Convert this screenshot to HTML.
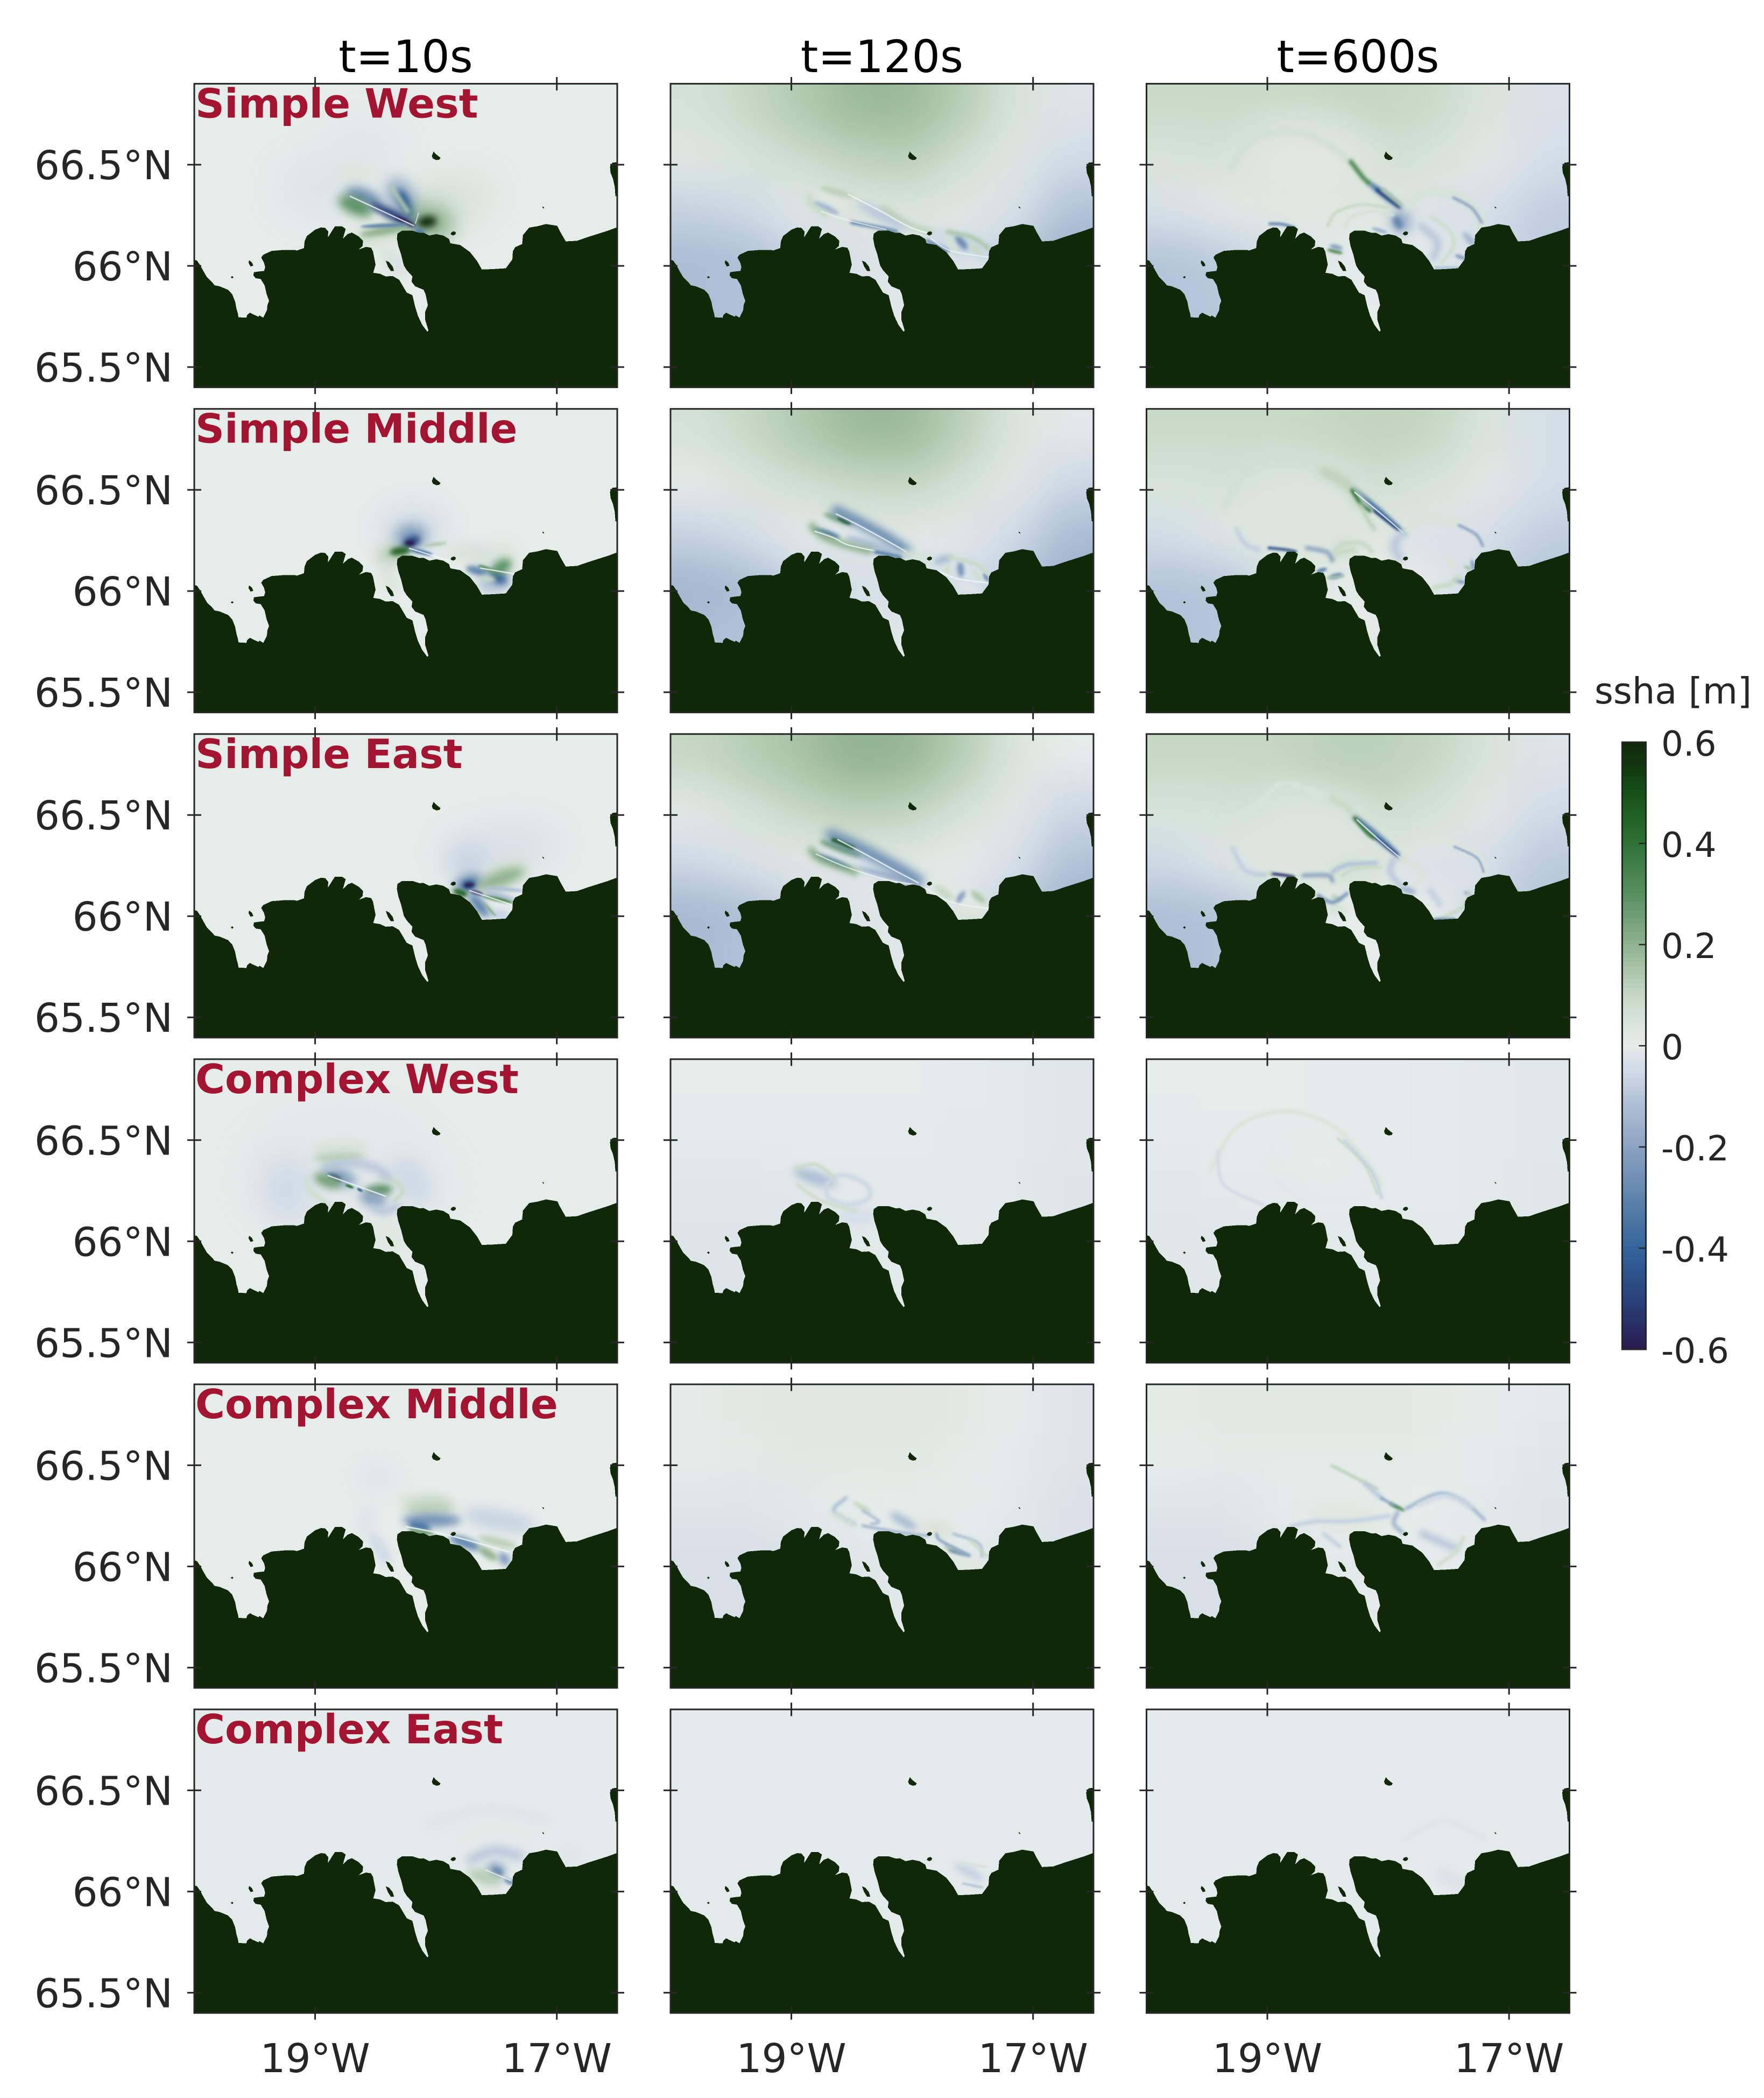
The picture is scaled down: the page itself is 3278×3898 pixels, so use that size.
<!DOCTYPE html>
<html>
<head>
<meta charset="utf-8">
<title>ssha maps</title>
<style>
html,body{margin:0;padding:0;background:#fff;}
svg{display:block;}
text{font-family:"DejaVu Sans","Liberation Sans",sans-serif;}
</style>
</head>
<body>
<svg id="figure" xmlns="http://www.w3.org/2000/svg" width="3278" height="3898" viewBox="0 0 3278 3898">
<rect x="0" y="0" width="3278" height="3898" fill="#ffffff"/>
<defs id="defs"></defs>
</svg>
<script>
/* ---------- axis ranges and ticks ---------- */
const lonRange = [-20, -16.5];
const latRange = [65.4, 66.9];
const lonTicks = [-19, -17];
const latTicks = [66.5, 66, 65.5];
const columnTitles = ['t=10s', 't=120s', 't=600s'];
const rowLabels = ['Simple West', 'Simple Middle', 'Simple East', 'Complex West', 'Complex Middle', 'Complex East'];
const colorbarTicks = [0.6, 0.4, 0.2, 0, -0.2, -0.4, -0.6];

/* ---------- colour map (value, colour) ---------- */
const cmapValues = [-0.6, -0.5, -0.4, -0.3, -0.2, -0.1, -0.05, 0, 0.05, 0.1, 0.2, 0.3, 0.4, 0.5, 0.55, 0.6];
const cmapColors = ['#2b1b50', '#28427a', '#34659a', '#5f84ac', '#8ba3c2', '#b6c6da', '#d0dbe6', '#e6ecea', '#d8e4da', '#c6d8c4', '#8fb28f', '#589060', '#2f7236', '#165218', '#11380f', '#102808'];

/* ---------- coastline in lon/lat ---------- */
const coastline = [-20,66.03,-19.977,66.026,-19.949,66.001,-19.925,65.975,-19.895,65.944,-19.849,65.917,-19.832,65.904,-19.79,65.899,-19.721,65.882,-19.686,65.86,-19.662,65.824,-19.651,65.789,-19.639,65.764,-19.634,65.746,-19.569,65.744,-19.562,65.758,-19.539,65.769,-19.511,65.76,-19.469,65.749,-19.46,65.755,-19.429,65.744,-19.399,65.78,-19.395,65.806,-19.381,65.827,-19.401,65.86,-19.418,65.904,-19.45,65.935,-19.492,65.939,-19.511,65.953,-19.506,65.969,-19.469,65.972,-19.422,65.975,-19.413,65.993,-19.422,66.015,-19.446,66.041,-19.429,66.055,-19.36,66.074,-19.255,66.079,-19.173,66.079,-19.15,66.076,-19.092,66.088,-19.087,66.121,-19.068,66.148,-18.999,66.179,-18.952,66.19,-18.917,66.188,-18.891,66.17,-18.894,66.141,-18.859,66.174,-18.836,66.195,-18.777,66.195,-18.747,66.183,-18.77,66.134,-18.731,66.157,-18.696,66.165,-18.638,66.145,-18.603,66.124,-18.607,66.099,-18.638,66.081,-18.579,66.094,-18.537,66.09,-18.521,66.072,-18.5,66.006,-18.519,65.966,-18.463,65.961,-18.416,65.948,-18.358,65.95,-18.305,65.932,-18.242,65.868,-18.195,65.855,-18.172,65.798,-18.149,65.753,-18.114,65.709,-18.072,65.675,-18.062,65.68,-18.072,65.7,-18.09,65.735,-18.09,65.771,-18.067,65.806,-18.086,65.86,-18.102,65.882,-18.172,65.899,-18.202,65.922,-18.195,65.948,-18.242,65.979,-18.265,66.001,-18.288,66.055,-18.312,66.099,-18.323,66.134,-18.319,66.159,-18.281,66.174,-18.195,66.174,-18.137,66.163,-18.102,66.164,-18.055,66.15,-17.997,66.157,-17.939,66.15,-17.892,66.133,-17.881,66.112,-17.799,66.103,-17.718,66.068,-17.66,66.024,-17.62,65.982,-17.531,65.984,-17.422,65.988,-17.368,66.032,-17.364,66.072,-17.345,66.092,-17.287,66.108,-17.28,66.152,-17.229,66.189,-17.159,66.196,-17.089,66.207,-16.996,66.198,-16.973,66.17,-16.926,66.121,-16.833,66.124,-16.74,66.143,-16.577,66.174,-16.495,66.192,-16.495,65.39,-20.005,65.39,-20.005,66.03];
const grimseyIsland = [-18.02,66.565,-18.0,66.552,-17.962,66.534,-17.972,66.525,-17.996,66.523,-18.025,66.53,-18.034,66.543];
const hriseyIsland = [-18.416,66.026,-18.388,66.019,-18.358,65.997,-18.347,65.975,-18.374,65.975,-18.398,65.997];
const westFjordIsland = [-19.546,66.028,-19.523,66.017,-19.511,66.001,-19.534,65.997,-19.551,66.015];
const tinyWestIsland = [-19.698,65.944,-19.686,65.95,-19.675,65.944,-19.686,65.938];
const capeIsland = [-17.88,66.157,-17.87,66.167,-17.85,66.171,-17.835,66.165,-17.84,66.155,-17.86,66.15];
const tinyEastIsland = [-17.12,66.295,-17.105,66.288,-17.108,66.283,-17.12,66.29];
const eastEdgeLand = [-16.49,66.513,-16.54,66.51,-16.56,66.49,-16.555,66.46,-16.535,66.43,-16.52,66.39,-16.515,66.345,-16.49,66.345];
const landShapes = [coastline, grimseyIsland, hriseyIsland, westFjordIsland, tinyWestIsland, capeIsland, tinyEastIsland, eastEdgeLand];

/* ---------- coarse background fields: 6 rows (north to south) x 8 columns (west to east), metres ---------- */
const calmField = [
 [0,0,0,0,0,0,0,0],
 [0,0,0,0,0,0,0,0],
 [0,0,0,0,0,0,0,0],
 [0,0,0,0,0,0,0,0],
 [0,0,0,0,0,0,0,0],
 [0,0,0,0,0,0,0,0]];
const simpleWest120Field = [
 [.06,.10,.14,.18,.18,.13,.05,-.02],
 [.02,.05,.08,.11,.12,.07,.02,-.05],
 [-.07,-.05,-.01,.03,.04,.02,-.03,-.11],
 [-.13,-.12,-.07,-.03,-.02,-.03,-.09,-.17],
 [-.12,-.11,-.07,-.02,.01,-.05,-.09,-.17],
 [-.12,-.11,-.07,-.02,.01,-.05,-.09,-.17]];
const simpleWest600Field = [
 [.09,.09,.09,.10,.10,.09,.04,-.03],
 [.05,.06,.06,.06,.07,.05,.01,-.04],
 [-.03,.0,.02,.02,.02,.01,-.04,-.08],
 [-.11,-.09,-.03,-.01,-.01,-.01,-.05,-.09],
 [-.10,-.10,-.04,.0,.0,-.02,-.05,-.08],
 [-.10,-.10,-.04,.0,.0,-.02,-.05,-.08]];
const simpleMiddle120Field = [
 [.06,.10,.14,.18,.18,.12,.04,-.01],
 [.0,.04,.07,.09,.10,.06,.01,-.06],
 [-.07,-.04,.0,.02,.01,-.01,-.05,-.13],
 [-.15,-.13,-.07,-.04,-.04,-.04,-.09,-.17],
 [-.12,-.11,-.07,-.03,.01,-.03,-.09,-.17],
 [-.12,-.11,-.07,-.03,.01,-.03,-.09,-.17]];
const simpleMiddle600Field = [
 [.09,.09,.09,.10,.11,.10,.04,-.04],
 [.05,.06,.06,.07,.07,.05,.01,-.04],
 [-.04,-.01,.03,.03,.02,.01,-.04,-.08],
 [-.11,-.10,-.03,.01,.0,-.01,-.07,-.11],
 [-.11,-.10,-.05,.0,.02,-.02,-.07,-.11],
 [-.11,-.10,-.05,.0,.02,-.02,-.07,-.11]];
const simpleEast120Field = [
 [.10,.13,.16,.20,.19,.13,.04,.0],
 [.01,.06,.10,.12,.11,.06,.01,-.06],
 [-.05,-.02,.01,.02,.02,.0,-.03,-.11],
 [-.14,-.12,-.06,-.02,-.02,-.02,-.08,-.16],
 [-.13,-.11,-.06,-.02,.02,.0,-.07,-.16],
 [-.13,-.11,-.06,-.02,.02,.0,-.07,-.16]];
const simpleEast600Field = [
 [.10,.10,.10,.12,.12,.10,.05,-.02],
 [.05,.06,.07,.08,.08,.06,.01,-.05],
 [-.05,-.01,.02,.03,.03,.01,-.04,-.09],
 [-.12,-.11,-.05,.0,.0,.0,-.07,-.11],
 [-.12,-.11,-.05,.0,.0,.0,-.07,-.11],
 [-.12,-.11,-.05,.0,.0,.0,-.07,-.11]];
const complexWest120Field = [
 [0,0,0,0,0,-.005,-.01,-.015],
 [-.005,-.005,-.005,-.005,-.005,-.01,-.01,-.015],
 [-.015,-.015,-.01,-.01,-.01,-.01,-.01,-.02],
 [-.02,-.02,-.02,-.01,-.01,-.01,-.01,-.02],
 [-.02,-.02,-.02,-.01,-.01,-.01,-.01,-.02],
 [-.02,-.02,-.02,-.01,-.01,-.01,-.01,-.02]];
const complexWest600Field = [
 [0,0,0,-.003,-.003,-.005,-.008,-.012],
 [-.005,-.004,-.003,-.003,-.003,-.005,-.008,-.012],
 [-.012,-.01,-.008,-.005,-.005,-.005,-.008,-.015],
 [-.015,-.015,-.01,-.008,-.008,-.008,-.01,-.015],
 [-.015,-.015,-.01,-.008,-.008,-.008,-.01,-.015],
 [-.015,-.015,-.01,-.008,-.008,-.008,-.01,-.015]];
const complexMiddle120Field = [
 [.01,.02,.03,.03,.03,.02,.0,-.02],
 [.005,.01,.02,.02,.02,.01,-.005,-.02],
 [-.02,-.02,-.01,.0,.005,.0,-.01,-.03],
 [-.035,-.035,-.03,-.02,-.01,-.01,-.02,-.03],
 [-.035,-.035,-.03,-.02,-.01,-.01,-.02,-.03],
 [-.035,-.035,-.03,-.02,-.01,-.01,-.02,-.03]];
const complexMiddle600Field = [
 [.015,.02,.02,.02,.02,.015,.0,-.01],
 [.0,.01,.01,.01,.01,.005,-.005,-.015],
 [-.02,-.02,-.005,.0,.005,.0,-.01,-.02],
 [-.035,-.035,-.02,-.01,-.005,-.005,-.01,-.02],
 [-.035,-.035,-.02,-.01,-.005,-.005,-.01,-.02],
 [-.035,-.035,-.02,-.01,-.005,-.005,-.01,-.02]];
const complexEastField = [
 [-.004,-.004,-.004,-.004,-.004,-.004,-.004,-.004],
 [-.004,-.004,-.004,-.004,-.004,-.004,-.004,-.004],
 [-.005,-.005,-.005,-.005,-.005,-.005,-.005,-.005],
 [-.006,-.006,-.006,-.006,-.006,-.006,-.006,-.006],
 [-.006,-.006,-.006,-.006,-.006,-.006,-.006,-.006],
 [-.006,-.006,-.006,-.006,-.006,-.006,-.006,-.006]];

/* ---------- wave features
   blobs: [lon1,lat1,lon2,lat2,halfWidthDeg,value]  (ellipse along an axis)
   fronts: [value,widthPx,lon,lat,lon,lat,...]      (thin crest lines)        ---------- */
const simpleWest10Blobs = [
 [-19.3,66.38,-18.6,66.38,.2,-.02],[-18.9,66.58,-18.3,66.58,.18,-.015],[-18.85,66.46,-18.5,66.46,.06,.035],[-18.0,66.3,-17.5,66.38,.16,.035],
 [-18.45,66.08,-18.25,65.96,.05,.05],[-18.4,66.02,-18.27,65.98,.04,-.03],[-18.7,66.12,-18.25,66.2,.06,.07],[-18.2,66.25,-17.8,66.3,.16,.07],
 [-18.354,66.418,-18.2,66.228,.075,-.22],[-18.30,66.37,-18.19,66.23,.03,-.42],[-18.73,66.37,-18.456,66.303,.05,-.28],[-18.797,66.33,-18.54,66.262,.05,.3],
 [-18.24,66.23,-17.88,66.2,.1,.22],[-18.15,66.21,-18.0,66.225,.035,.58],[-18.525,66.303,-18.184,66.199,.03,-.5],[-18.337,66.242,-18.184,66.199,.012,-.6],
 [-18.61,66.154,-18.235,66.194,.025,.2],[-18.61,66.194,-18.25,66.204,.012,-.3],[-18.17,66.18,-18.1,66.15,.025,-.35]];
const simpleWest10Fronts = [[.14,6,-18.37,66.39,-18.235,66.27],[0,3,-18.71,66.344,-18.184,66.199],[0,2,-18.17,66.21,-18.145,66.26]];
const simpleWest120Blobs = [
 [-17.635,66.03,-17.394,65.995,.05,-.02],[-18.813,66.354,-18.53,66.287,.065,.03],[-18.756,66.387,-18.5,66.343,.02,.12],[-18.813,66.315,-18.614,66.259,.018,-.15],
 [-18.444,66.309,-18.046,66.186,.035,-.09],[-17.862,66.152,-17.365,66.063,.055,-.06],[-17.635,66.147,-17.55,66.085,.022,-.28],[-17.734,66.152,-17.635,66.074,.02,.06],[-17.52,66.108,-17.436,66.057,.018,.1]];
const simpleWest120Fronts = [
 [.1,8,-18.856,66.343,-18.827,66.298,-18.714,66.253],[.12,8,-18.245,66.287,-18.018,66.203,-17.848,66.169],[0,3,-18.53,66.354,-18.274,66.275,-18.018,66.191,-17.848,66.158],
 [-.3,5,-18.5,66.214,-18.245,66.186,-18.13,66.169],[0,2,-18.756,66.27,-18.53,66.225,-18.217,66.18],[.15,6,-17.706,66.169,-17.507,66.141,-17.365,66.085],
 [-.3,5,-17.876,66.124,-17.706,66.074],[0,2.5,-17.848,66.136,-17.678,66.074,-17.365,66.043]];
const simpleWest600Blobs = [
 [-19.23,66.51,-18.13,66.488,.3,.03],[-17.793,66.264,-17.26,66.242,.14,-.03],[-17.91,66.276,-17.878,66.164,.06,-.18],[-17.945,66.242,-17.895,66.186,.025,-.3],
 [-18.16,66.41,-17.894,66.287,.02,-.35],[-18.5,66.08,-18.38,66.063,.012,.3],[-18.48,66.1,-18.38,66.085,.015,-.2],[-18.13,66.186,-18.01,66.164,.012,-.15],
 [-17.377,66.163,-17.276,66.096,.02,-.14],[-17.443,66.052,-17.36,66.035,.012,-.2]];
const simpleWest600Fronts = [
 [.07,8,-19.3,66.488,-19.132,66.622,-18.8,66.667,-18.53,66.611,-18.33,66.522,-18.23,66.455],[.35,6,-18.31,66.516,-18.21,66.438,-18.16,66.41],
 [-.5,4,-18.095,66.376,-17.91,66.292],[.15,5,-18.045,66.376,-17.888,66.298],[.06,10,-17.845,66.298,-17.694,66.365,-17.494,66.359,-17.326,66.309,-17.226,66.23,-17.243,66.175],
 [-.2,4,-17.46,66.337,-17.31,66.287,-17.226,66.214],[-.1,10,-17.728,66.197,-17.593,66.119,-17.627,66.04],[.08,5,-17.645,66.242,-17.494,66.175,-17.46,66.096,-17.56,66.018],
 [.1,4,-18.5,66.197,-18.43,66.264,-18.23,66.303,-18.0,66.287],[.06,4,-18.36,66.186,-18.3,66.242,-18.13,66.27,-17.96,66.253],[-.3,4,-18.98,66.208,-18.88,66.206,-18.78,66.19],
 [-.12,4,-17.61,65.99,-17.425,65.99]];
const simpleMiddle10Blobs = [
 [-18.46,66.31,-17.92,66.31,.14,-.04],[-18.45,66.13,-18.33,66.0,.05,.04],[-18.48,66.172,-18.22,66.198,.06,.12],[-18.325,66.263,-18.088,66.276,.07,-.25],[-18.27,66.23,-18.137,66.257,.03,-.5],
 [-18.25,66.235,-18.18,66.237,.016,-.6],[-18.376,66.191,-18.22,66.204,.025,.45],[-18.205,66.205,-18.035,66.18,.012,-.4],[-18.1,66.224,-17.916,66.237,.012,.13],
 [-17.745,66.224,-17.49,66.133,.05,-.03],[-17.9,66.2,-17.55,66.16,.05,.05],[-17.51,66.133,-17.37,66.198,.09,.06],[-17.646,66.028,-17.387,66.054,.06,-.12],[-17.745,66.113,-17.574,66.087,.025,-.3],
 [-17.56,66.087,-17.42,66.048,.035,-.42],[-17.525,66.094,-17.387,66.146,.04,.3],[-17.646,66.126,-17.51,66.094,.012,.3],[-17.63,66.067,-17.51,66.054,.02,.1]];
const simpleMiddle10Fronts = [[0,3,-18.22,66.211,-17.9,66.152],[0,3,-17.63,66.113,-17.3,66.08]];
const simpleMiddle120Blobs = [
 [-17.63,66.03,-17.42,65.99,.04,-.02],[-18.816,66.33,-18.094,66.193,.075,-.02],[-18.723,66.38,-18.49,66.33,.02,.22],[-18.618,66.361,-18.513,66.331,.01,.5],
 [-18.804,66.305,-18.606,66.264,.018,-.35],[-18.536,66.264,-18.164,66.193,.025,-.12],[-17.814,66.142,-17.372,66.061,.05,-.03],[-17.814,66.142,-17.674,66.168,.025,-.12],
 [-17.605,66.142,-17.594,66.071,.02,-.25],[-17.72,66.132,-17.7,66.086,.02,.08],[-17.5,66.101,-17.43,66.055,.015,.08],[-17.407,66.086,-17.372,66.05,.012,-.25]];
const simpleMiddle120Fronts = [
 [-.3,14,-18.63,66.396,-18.443,66.341,-18.21,66.264,-18.048,66.198],[0,3,-18.63,66.381,-18.443,66.325,-18.21,66.249,-18.048,66.193],[.22,10,-18.83,66.32,-18.746,66.274,-18.583,66.234,-18.35,66.198],
 [0,3,-18.804,66.295,-18.653,66.264,-18.536,66.229,-18.304,66.198],[-.35,5,-18.304,66.193,-18.094,66.168],[.06,10,-18.07,66.188,-17.86,66.157],[0,3,-17.79,66.101,-17.628,66.061,-17.372,66.04],
 [.1,5,-17.7,66.168,-17.49,66.137,-17.372,66.086]];
const simpleMiddle600Blobs = [
 [-19.23,66.417,-18.18,66.356,.3,.04],[-17.857,66.254,-17.23,66.223,.13,-.03],[-18.44,66.223,-18.277,66.193,.05,.07],[-18.288,66.508,-17.857,66.28,.018,-.35],
 [-18.59,66.096,-18.51,66.11,.012,-.3],[-18.486,66.066,-18.38,66.082,.015,-.28],[-17.37,66.122,-17.31,66.107,.012,.15],[-17.31,66.152,-17.287,66.1,.012,-.2],[-17.46,66.056,-17.36,66.04,.012,-.2],[-17.508,66.173,-17.46,66.111,.02,.05]];
const simpleMiddle600Fronts = [
 [.07,8,-19.35,66.417,-19.185,66.59,-18.88,66.651,-18.556,66.6,-18.347,66.529],[.12,14,-18.533,66.59,-18.347,66.529,-18.23,66.44],[.4,5,-18.3,66.498,-18.22,66.427,-18.15,66.396],
 [-.5,4,-18.114,66.396,-17.916,66.305],[0,3,-18.277,66.488,-18.067,66.386,-17.88,66.29],[.12,6,-18.23,66.427,-18.16,66.346,-18.114,66.305],[.05,10,-17.88,66.275,-17.695,66.356,-17.415,66.335],
 [-.2,4,-17.415,66.325,-17.275,66.28,-17.217,66.223],[-.1,12,-17.904,66.274,-17.95,66.223,-17.904,66.162],[.1,6,-18.451,66.193,-18.37,66.233,-18.207,66.233,-18.137,66.193],[.1,6,-18.463,66.152,-18.393,66.193,-18.277,66.203],
 [-.2,6,-18.673,66.213,-18.51,66.193,-18.463,66.152],[-.45,4,-18.987,66.213,-18.859,66.205,-18.766,66.195],[-.08,6,-19.255,66.305,-19.185,66.234,-19.068,66.203],[.15,3,-18.5,66.065,-18.37,66.075],[.1,6,-17.625,66.015,-17.485,66.035,-17.415,66.07]];
const simpleEast10Blobs = [
 [-17.95,66.3,-17.0,66.37,.16,-.03],[-17.88,66.25,-17.576,66.276,.1,-.07],[-17.61,66.172,-17.25,66.25,.07,.07],[-17.576,66.015,-17.387,66.0,.03,-.07],[-17.875,66.133,-17.73,66.093,.03,.12],
 [-17.83,66.146,-17.626,66.178,.05,-.3],[-17.78,66.148,-17.678,66.159,.025,-.5],[-17.76,66.152,-17.685,66.156,.012,-.58],[-17.71,66.123,-17.61,66.106,.012,-.6],[-17.85,66.126,-17.745,66.106,.018,.45],
 [-17.645,66.146,-17.285,66.224,.045,.2],[-17.575,66.14,-17.285,66.126,.012,-.12],[-17.59,66.12,-17.35,66.08,.018,-.12],[-17.61,66.1,-17.37,66.067,.012,.35],[-17.713,66.106,-17.576,66.002,.035,-.3],[-17.61,66.067,-17.507,66.002,.008,.2]];
const simpleEast10Fronts = [[0,3,-17.72,66.126,-17.36,66.054]];
const simpleEast120Blobs = [
 [-17.67,66.041,-17.385,66.006,.05,.05],[-18.805,66.334,-18.03,66.179,.065,-.03],[-18.755,66.369,-18.43,66.298,.02,.25],[-18.796,66.303,-18.515,66.236,.018,-.35],[-18.43,66.236,-17.99,66.165,.02,-.15],
 [-17.87,66.157,-17.365,66.041,.065,.02],[-17.568,66.121,-17.628,66.068,.018,-.2],[-17.81,66.148,-17.67,66.086,.025,.1],[-17.507,66.121,-17.4,66.068,.02,.15]];
const simpleEast120Fronts = [
 [-.3,16,-18.675,66.4,-18.43,66.334,-18.15,66.245,-17.95,66.174],[.5,5,-18.655,66.378,-18.49,66.338],[0,3,-18.615,66.378,-18.39,66.307,-18.15,66.228,-17.95,66.165],
 [.22,10,-18.836,66.325,-18.755,66.281,-18.47,66.219],[0,2.5,-18.796,66.307,-18.555,66.245,-18.23,66.183,-17.99,66.157],[0,2.5,-17.89,66.139,-17.67,66.068,-17.365,66.037]];
const simpleEast600Blobs = [
 [-19.145,66.414,-18.137,66.369,.3,.04],[-17.895,66.236,-17.19,66.228,.13,-.03],[-18.46,66.228,-18.1,66.201,.07,.06],[-18.278,66.493,-17.895,66.29,.02,-.35],[-18.47,66.1,-18.39,66.08,.015,.12],
 [-18.5,66.05,-18.36,66.024,.03,.06],[-17.895,66.139,-17.774,66.117,.02,-.15],[-17.37,66.121,-17.31,66.099,.012,-.15]];
const simpleEast600Fronts = [
 [.1,8,-18.5,66.591,-18.339,66.538,-18.278,66.485],[.05,8,-19.286,66.343,-19.266,66.485,-19.064,66.564,-18.86,66.655,-18.5,66.591],[.4,5,-18.278,66.485,-18.177,66.414,-18.117,66.387],
 [-.5,4,-18.097,66.387,-17.915,66.298],[0,3,-18.258,66.476,-18.077,66.378,-17.895,66.285],[.04,8,-17.895,66.29,-17.694,66.369,-17.492,66.365,-17.27,66.298,-17.2,66.219],[-.2,3,-17.452,66.343,-17.27,66.29,-17.21,66.219],
 [.05,6,-17.875,66.28,-17.714,66.219,-17.774,66.148],[-.1,8,-17.956,66.28,-17.984,66.219,-17.895,66.148],[-.12,6,-18.46,66.219,-18.339,66.254,-18.097,66.263],[.1,4,-18.379,66.201,-18.258,66.236,-18.056,66.241],
 [-.2,6,-18.7,66.201,-18.5,66.201,-18.46,66.174],[-.55,4,-18.964,66.21,-18.843,66.201,-18.782,66.194],[.1,4,-19.105,66.201,-18.964,66.214],[-.08,6,-19.286,66.334,-19.185,66.228,-19.024,66.201],
 [-.25,5,-18.58,66.103,-18.46,66.068,-18.339,66.112],[.1,5,-17.33,66.112,-17.39,66.041,-17.57,65.988],[-.08,8,-17.653,66.13,-17.573,66.059],[-.3,4,-17.613,65.984,-17.452,65.984]];
const complexWest10Blobs = [
 [-19.55,66.35,-17.9,66.25,.4,-.012],[-19.3,66.55,-18.2,66.55,.15,-.01],[-19.23,66.391,-19.23,66.116,.14,-.055],[-18.32,66.391,-18.09,66.208,.09,-.06],[-18.5,66.1,-18.3,65.95,.07,.03],
 [-19.0,66.467,-18.58,66.472,.035,.05],[-19.0,66.411,-18.6,66.42,.035,.12],[-18.917,66.35,-18.673,66.289,.05,-.22],[-18.894,66.335,-18.79,66.3,.018,-.5],[-19.0,66.32,-18.79,66.279,.04,.25],
 [-18.58,66.244,-18.37,66.259,.035,.3],[-18.626,66.228,-18.416,66.188,.045,-.2],[-18.747,66.279,-18.684,66.264,.008,.4],[-18.65,66.261,-18.61,66.247,.008,-.4]];
const complexWest10Fronts = [
 [.08,6,-19.07,66.31,-19.057,66.259,-18.95,66.208,-18.88,66.177],[.1,6,-18.46,66.32,-18.32,66.289,-18.277,66.243,-18.35,66.198],[-.1,10,-18.51,66.162,-18.416,66.147,-18.32,66.172],
 [-.1,12,-18.905,66.36,-18.72,66.386,-18.51,66.366,-18.393,66.32],[0,3,-18.894,66.325,-18.416,66.223]];
const complexWest120Blobs = [[-18.6,66.12,-18.3,66.12,.05,-.04],[-18.97,66.347,-18.64,66.28,.04,-.12]];
const complexWest120Fronts = [
 [-.06,6,-18.714,66.28,-18.58,66.327,-18.38,66.28,-18.36,66.215,-18.525,66.182,-18.69,66.215,-18.714,66.28],[.1,4,-18.97,66.36,-18.8,66.38,-18.64,66.314],[.08,5,-18.95,66.28,-18.75,66.2,-18.47,66.15]];
const complexWest600Blobs = [[-18.8,66.42,-18.3,66.35,.12,.005]];
const complexWest600Fronts = [
 [.05,5,-19.47,66.347,-19.25,66.564,-18.86,66.643,-18.475,66.577,-18.2,66.413,-18.055,66.28],[-.08,4,-18.365,66.498,-18.14,66.347,-18.055,66.215],[.1,3,-18.42,66.51,-18.2,66.38,-18.09,66.235],[-.05,4,-19.41,66.445,-19.36,66.28,-19.03,66.18]];
const complexMiddle10Blobs = [
 [-18.49,66.49,-18.49,66.39,.12,-.025],[-18.3,66.33,-17.9,66.33,.04,.05],[-18.25,66.281,-17.86,66.294,.05,.12],[-17.75,66.259,-17.2,66.197,.06,-.07],[-18.55,66.3,-18.6,66.15,.05,-.02],[-18.53,66.161,-18.39,66.01,.04,-.05],
 [-18.26,66.228,-17.81,66.228,.04,-.25],[-18.22,66.21,-18.05,66.188,.025,-.35],[-17.88,66.143,-17.64,66.09,.03,-.3],[-17.47,66.064,-17.4,66.01,.03,-.22],[-17.64,66.09,-17.5,66.037,.025,.2],[-17.64,66.143,-17.34,66.099,.025,.12],[-18.22,66.179,-18.02,66.161,.015,.25]];
const complexMiddle10Fronts = [[0,3,-18.25,66.197,-17.88,66.152,-17.4,66.072]];
const complexMiddle120Blobs = [[-17.93,66.205,-17.66,66.17,.05,.05],[-18.48,66.316,-18.344,66.267,.015,.1],[-18.173,66.259,-17.97,66.188,.03,-.12],[-17.73,66.099,-17.594,66.064,.015,.15],[-17.696,66.081,-17.526,66.05,.012,-.25],[-17.66,66.028,-17.39,65.993,.04,.03]];
const complexMiddle120Fronts = [
 [-.12,5,-18.548,66.338,-18.65,66.276,-18.48,66.21],[-.12,4,-18.41,66.276,-18.275,66.223,-18.34,66.21],[-.15,4,-18.41,66.201,-18.07,66.165,-17.87,66.152],[-.2,4,-17.8,66.161,-17.76,66.126,-17.526,66.055],[-.12,4,-17.66,66.161,-17.457,66.117,-17.42,66.05],[.1,4,-17.526,66.134,-17.376,66.046],[.06,8,-18.65,66.259,-18.48,66.205]];
const complexMiddle600Blobs = [[-17.58,66.232,-17.24,66.214,.1,-.01],[-18.67,66.259,-18.06,66.223,.08,.03],[-17.99,66.312,-17.867,66.276,.012,.3]];
const complexMiddle600Fronts = [
 [.12,4,-18.466,66.498,-18.262,66.436,-18.09,66.383],[-.1,6,-18.194,66.41,-18.057,66.338],[-.2,4,-18.057,66.338,-17.955,66.303],[-.15,6,-17.92,66.268,-17.955,66.214,-17.887,66.17],[-.15,5,-17.853,66.285,-17.58,66.36,-17.376,66.321,-17.205,66.232],[-.05,6,-17.75,66.303,-17.51,66.347,-17.31,66.294],
 [-.08,5,-18.81,66.197,-18.6,66.223,-18.33,66.223,-17.99,66.25],[-.1,10,-17.717,66.161,-17.444,66.09],[.08,5,-17.376,66.143,-17.444,66.072,-17.58,66.01],[-.08,5,-18.535,66.161,-18.4,66.099]];
const complexEast10Blobs = [[-16.94,66.208,-16.84,66.144,.05,-.02],[-17.7,66.0,-17.5,66.0,.03,.02],[-17.57,66.119,-17.434,66.093,.045,-.22],[-17.537,66.106,-17.45,66.087,.02,-.3],[-17.724,66.093,-17.469,66.049,.04,.13],[-17.434,66.062,-17.356,66.036,.015,-.25]];
const complexEast10Fronts = [[-.02,14,-18.03,66.334,-17.588,66.41,-17.11,66.36],[.02,10,-17.76,66.258,-17.52,66.322,-17.247,66.284],[-.1,14,-17.707,66.157,-17.52,66.201,-17.315,66.176],[0,2.5,-17.588,66.106,-17.383,66.055]];
const complexEast120Blobs = [[-17.64,66.13,-17.42,66.063,.03,-.07]];
const complexEast120Fronts = [[.06,3,-17.605,66.142,-17.385,66.122],[-.12,3,-17.58,66.04,-17.42,66.02]];
const complexEast600Blobs = [[-17.59,66.096,-17.37,66.03,.04,-.03]];
const complexEast600Fronts = [[-.02,6,-17.87,66.26,-17.535,66.347,-17.2,66.26]];

/* ---------- scales and helpers ---------- */
const svg = document.getElementById('figure');
const defs = document.getElementById('defs');
const NS = 'http://www.w3.org/2000/svg';
const PANEL_W = 786, PANEL_H = 564;
const columnLeft = [361, 1246, 2130.5];
const rowTop = [155.6, 759.7, 1363.8, 1967.9, 2572, 3176];
const INK = '#262626';
const LAND = '#102808';
let uid = 0;

function xScale(lon) { return (lon - lonRange[0]) / (lonRange[1] - lonRange[0]) * PANEL_W; }
function yScale(lat) { return (latRange[1] - lat) / (latRange[1] - latRange[0]) * PANEL_H; }

function make(tag, attrs, parent) {
  const el = document.createElementNS(NS, tag);
  for (const k in attrs) el.setAttribute(k, attrs[k]);
  if (parent) parent.appendChild(el);
  return el;
}
function hexToRgb(h) { return [parseInt(h.slice(1,3),16), parseInt(h.slice(3,5),16), parseInt(h.slice(5,7),16)]; }
function colorOf(v) {
  if (v <= cmapValues[0]) return cmapColors[0];
  const n = cmapValues.length - 1;
  if (v >= cmapValues[n]) return cmapColors[n];
  let i = 0;
  while (v > cmapValues[i + 1]) i++;
  const t = (v - cmapValues[i]) / (cmapValues[i + 1] - cmapValues[i]);
  const a = hexToRgb(cmapColors[i]), b = hexToRgb(cmapColors[i + 1]);
  return 'rgb(' + Math.round(a[0] + (b[0] - a[0]) * t) + ',' + Math.round(a[1] + (b[1] - a[1]) * t) + ',' + Math.round(a[2] + (b[2] - a[2]) * t) + ')';
}
function blurFilter(sigma, x0, y0, x1, y1) {
  if (sigma < 0.4) return null;
  const m = sigma * 3 + 2;
  const id = 'blur' + (uid++);
  const f = make('filter', {id: id, filterUnits: 'userSpaceOnUse', x: x0 - m, y: y0 - m, width: x1 - x0 + 2 * m, height: y1 - y0 + 2 * m, 'color-interpolation-filters': 'sRGB'}, defs);
  make('feGaussianBlur', {stdDeviation: sigma}, f);
  return id;
}
function drawField(group, field) {
  const rows = field.length, cols = field[0].length;
  const w = PANEL_W / cols, h = PANEL_H / rows;
  const layer = make('g', {filter: 'url(#' + blurFilter(42, -170, -170, PANEL_W + 170, PANEL_H + 170) + ')', 'shape-rendering': 'crispEdges'}, group);
  
  
  for (let r = 0; r < rows; r++) {
    for (let c = 0; c < cols; c++) {
      const xa = c === 0 ? -170 : c * w, xb = c === cols - 1 ? PANEL_W + 170 : (c + 1) * w + 1;
      const ya = r === 0 ? -170 : r * h, yb = r === rows - 1 ? PANEL_H + 170 : (r + 1) * h + 1;
      const cell = make('rect', {x: xa, y: ya, width: xb - xa, height: yb - ya, fill: colorOf(field[r][c])}, layer);
      
      
    }
  }
}
function drawBlob(group, b) {
  const x1 = xScale(b[0]), y1 = yScale(b[1]), x2 = xScale(b[2]), y2 = yScale(b[3]);
  const pxPerDeg = PANEL_W / (lonRange[1] - lonRange[0]);
  const hw = b[4] * pxPerDeg * 1.35;
  const cx = (x1 + x2) / 2, cy = (y1 + y2) / 2;
  const len = (Math.hypot(x2 - x1, y2 - y1) / 2 || hw) * 1.08;
  const ang = Math.atan2(y2 - y1, x2 - x1);
  let d = '', minx = 1e9, miny = 1e9, maxx = -1e9, maxy = -1e9;
  for (let i = 0; i < 28; i++) {
    const t = i / 28 * Math.PI * 2;
    const px = cx + Math.cos(t) * len * Math.cos(ang) - Math.sin(t) * hw * Math.sin(ang);
    const py = cy + Math.cos(t) * len * Math.sin(ang) + Math.sin(t) * hw * Math.cos(ang);
    d += (i ? 'L' : 'M') + px.toFixed(1) + ' ' + py.toFixed(1);
    minx = Math.min(minx, px); miny = Math.min(miny, py); maxx = Math.max(maxx, px); maxy = Math.max(maxy, py);
  }
  const blob = make('path', {d: d + 'Z', fill: colorOf(b[5])}, group);
  
  
  const id = blurFilter(Math.min(hw * 0.6, 34), minx, miny, maxx, maxy);
  if (id) blob.setAttribute('filter', 'url(#' + id + ')');
}
function smoothPath(pts) {
  let d = 'M' + pts[0][0].toFixed(1) + ' ' + pts[0][1].toFixed(1);
  for (let i = 0; i < pts.length - 1; i++) {
    const p0 = pts[Math.max(i - 1, 0)], p1 = pts[i], p2 = pts[i + 1], p3 = pts[Math.min(i + 2, pts.length - 1)];
    d += 'C' + (p1[0] + (p2[0] - p0[0]) / 6).toFixed(1) + ' ' + (p1[1] + (p2[1] - p0[1]) / 6).toFixed(1) + ' ' +
         (p2[0] - (p3[0] - p1[0]) / 6).toFixed(1) + ' ' + (p2[1] - (p3[1] - p1[1]) / 6).toFixed(1) + ' ' +
         p2[0].toFixed(1) + ' ' + p2[1].toFixed(1);
  }
  return d;
}
function drawFront(group, f) {
  const pts = [];
  let minx = 1e9, miny = 1e9, maxx = -1e9, maxy = -1e9;
  for (let i = 2; i < f.length; i += 2) {
    const px = xScale(f[i]), py = yScale(f[i + 1]);
    pts.push([px, py]);
    minx = Math.min(minx, px); miny = Math.min(miny, py); maxx = Math.max(maxx, px); maxy = Math.max(maxy, py);
  }
  const crest = f[0] === 0;
  const stroke = crest ? '#f2f6f5' : colorOf(f[0]);
  const width = crest ? f[1] * 0.7 : f[1] * 1.25;
  const line = make('path', {d: smoothPath(pts), fill: 'none', stroke: stroke, 'stroke-width': width, 'stroke-linecap': 'round', 'stroke-linejoin': 'round'}, group);
  
  
  const sigma = crest ? 0.5 : f[1] * 0.55;
  const pad = width + 30;
  const id = blurFilter(sigma, minx - pad, miny - pad, maxx + pad, maxy + pad);
  if (id) line.setAttribute('filter', 'url(#' + id + ')');
}
function drawLand(group) {
  let d = '';
  landShapes.forEach(function (shape) {
    for (let i = 0; i < shape.length; i += 2) {
      d += (i ? 'L' : 'M') + xScale(shape[i]).toFixed(1) + ' ' + yScale(shape[i + 1]).toFixed(1);
    }
    d += 'Z';
  });
  const land = make('path', {d: d, fill: LAND, 'shape-rendering': 'crispEdges'}, group);
  
  
}
function drawTicks(group) {
  lonTicks.forEach(function (lon) {
    [0, PANEL_H].forEach(function (yy) {
      const t = make('line', {x1: xScale(lon), x2: xScale(lon), y1: yy - 12.5, y2: yy + 12.5, stroke: INK, 'stroke-width': 3}, group);
      
      
    });
  });
  latTicks.forEach(function (lat) {
    [0, PANEL_W].forEach(function (xx) {
      const t = make('line', {x1: xx - 13, x2: xx + 13, y1: yScale(lat), y2: yScale(lat), stroke: INK, 'stroke-width': 3}, group);
      
      
    });
  });
}
function latLabel(v) { return v + '°N'; }
function lonLabel(v) { return Math.abs(v) + '°W'; }

/* ---------- panels (row by row, column by column) ---------- */
const panelData = [
 [[calmField, simpleWest10Blobs, simpleWest10Fronts], [simpleWest120Field, simpleWest120Blobs, simpleWest120Fronts], [simpleWest600Field, simpleWest600Blobs, simpleWest600Fronts]],
 [[calmField, simpleMiddle10Blobs, simpleMiddle10Fronts], [simpleMiddle120Field, simpleMiddle120Blobs, simpleMiddle120Fronts], [simpleMiddle600Field, simpleMiddle600Blobs, simpleMiddle600Fronts]],
 [[calmField, simpleEast10Blobs, simpleEast10Fronts], [simpleEast120Field, simpleEast120Blobs, simpleEast120Fronts], [simpleEast600Field, simpleEast600Blobs, simpleEast600Fronts]],
 [[calmField, complexWest10Blobs, complexWest10Fronts], [complexWest120Field, complexWest120Blobs, complexWest120Fronts], [complexWest600Field, complexWest600Blobs, complexWest600Fronts]],
 [[calmField, complexMiddle10Blobs, complexMiddle10Fronts], [complexMiddle120Field, complexMiddle120Blobs, complexMiddle120Fronts], [complexMiddle600Field, complexMiddle600Blobs, complexMiddle600Fronts]],
 [[complexEastField, complexEast10Blobs, complexEast10Fronts], [complexEastField, complexEast120Blobs, complexEast120Fronts], [complexEastField, complexEast600Blobs, complexEast600Fronts]]
];

panelData.forEach(function (row, r) {
  row.forEach(function (cellData, c) {
    const panel = make('g', {transform: 'translate(' + columnLeft[c] + ' ' + rowTop[r] + ')'}, svg);
    
    
    const clipId = 'clip' + r + c;
    const clip = make('clipPath', {id: clipId}, defs);
    make('rect', {x: 0, y: 0, width: PANEL_W, height: PANEL_H}, clip);
    const plot = make('g', {'clip-path': 'url(#' + clipId + ')'}, panel);
    
    
    drawField(plot, cellData[0]);
    cellData[1].forEach(function (b) { drawBlob(plot, b); });
    cellData[2].forEach(function (f) { drawFront(plot, f); });
    drawLand(plot);
    const frame = make('rect', {x: 0, y: 0, width: PANEL_W, height: PANEL_H, fill: 'none', stroke: INK, 'stroke-width': 3}, panel);
    
    
    drawTicks(panel);
    if (c === 0) {
      const lab = make('text', {x: 2, y: 63, 'font-size': 75, 'font-weight': 'bold', fill: '#a2142f'}, panel);
      lab.textContent = rowLabels[r];
      
      
      latTicks.forEach(function (lat) {
        const t = make('text', {x: -40, y: yScale(lat) + 27, 'font-size': 74, fill: INK, 'text-anchor': 'end'}, panel);
        t.textContent = latLabel(lat);
        
        
      });
    }
    if (r === rowTop.length - 1) {
      lonTicks.forEach(function (lon) {
        const t = make('text', {x: xScale(lon), y: 3850 - rowTop[r], 'font-size': 74, fill: INK, 'text-anchor': 'middle'}, panel);
        t.textContent = lonLabel(lon);
        
        
      });
    }
    if (r === 0) {
      const t = make('text', {x: PANEL_W / 2, y: 134 - rowTop[0], 'font-size': 82.5, fill: '#000000', 'text-anchor': 'middle'}, panel);
      t.textContent = columnTitles[c];
      
      
    }
  });
});

/* ---------- colorbar ---------- */
const CB_X = 3014.5, CB_W = 44, CB_TOP = 1379, CB_H = 1128;
function cbY(v) { return CB_TOP + (colorbarTicks[0] - v) / (colorbarTicks[0] - colorbarTicks[colorbarTicks.length - 1]) * CB_H; }
const cb = make('g', {}, svg);


const cbSteps = 141;
for (let i = 0; i < cbSteps; i++) {
  const v0 = 0.6 - i * 1.2 / cbSteps;
  const v1 = 0.6 - (i + 1) * 1.2 / cbSteps;
  const seg = make('rect', {x: CB_X, y: cbY(v0), width: CB_W, height: cbY(v1) - cbY(v0) + 0.6, fill: colorOf((v0 + v1) / 2), 'shape-rendering': 'crispEdges'}, cb);
  
  
}
const cbFrame = make('rect', {x: CB_X, y: CB_TOP, width: CB_W, height: CB_H, fill: 'none', stroke: INK, 'stroke-width': 3}, cb);


colorbarTicks.forEach(function (v) {
  const tk = make('line', {x1: CB_X + CB_W - 13, x2: CB_X + CB_W + 1, y1: cbY(v), y2: cbY(v), stroke: INK, 'stroke-width': 2.5}, cb);
  
  
  const tl = make('text', {x: 3087, y: cbY(v) + 25, 'font-size': 64.5, fill: INK}, cb);
  tl.textContent = String(v);
  
  
});
const cbTitle = make('text', {x: 2963, y: 1307, 'font-size': 67, fill: INK}, cb);
cbTitle.textContent = 'ssha [m]';


</script>
</body>
</html>
